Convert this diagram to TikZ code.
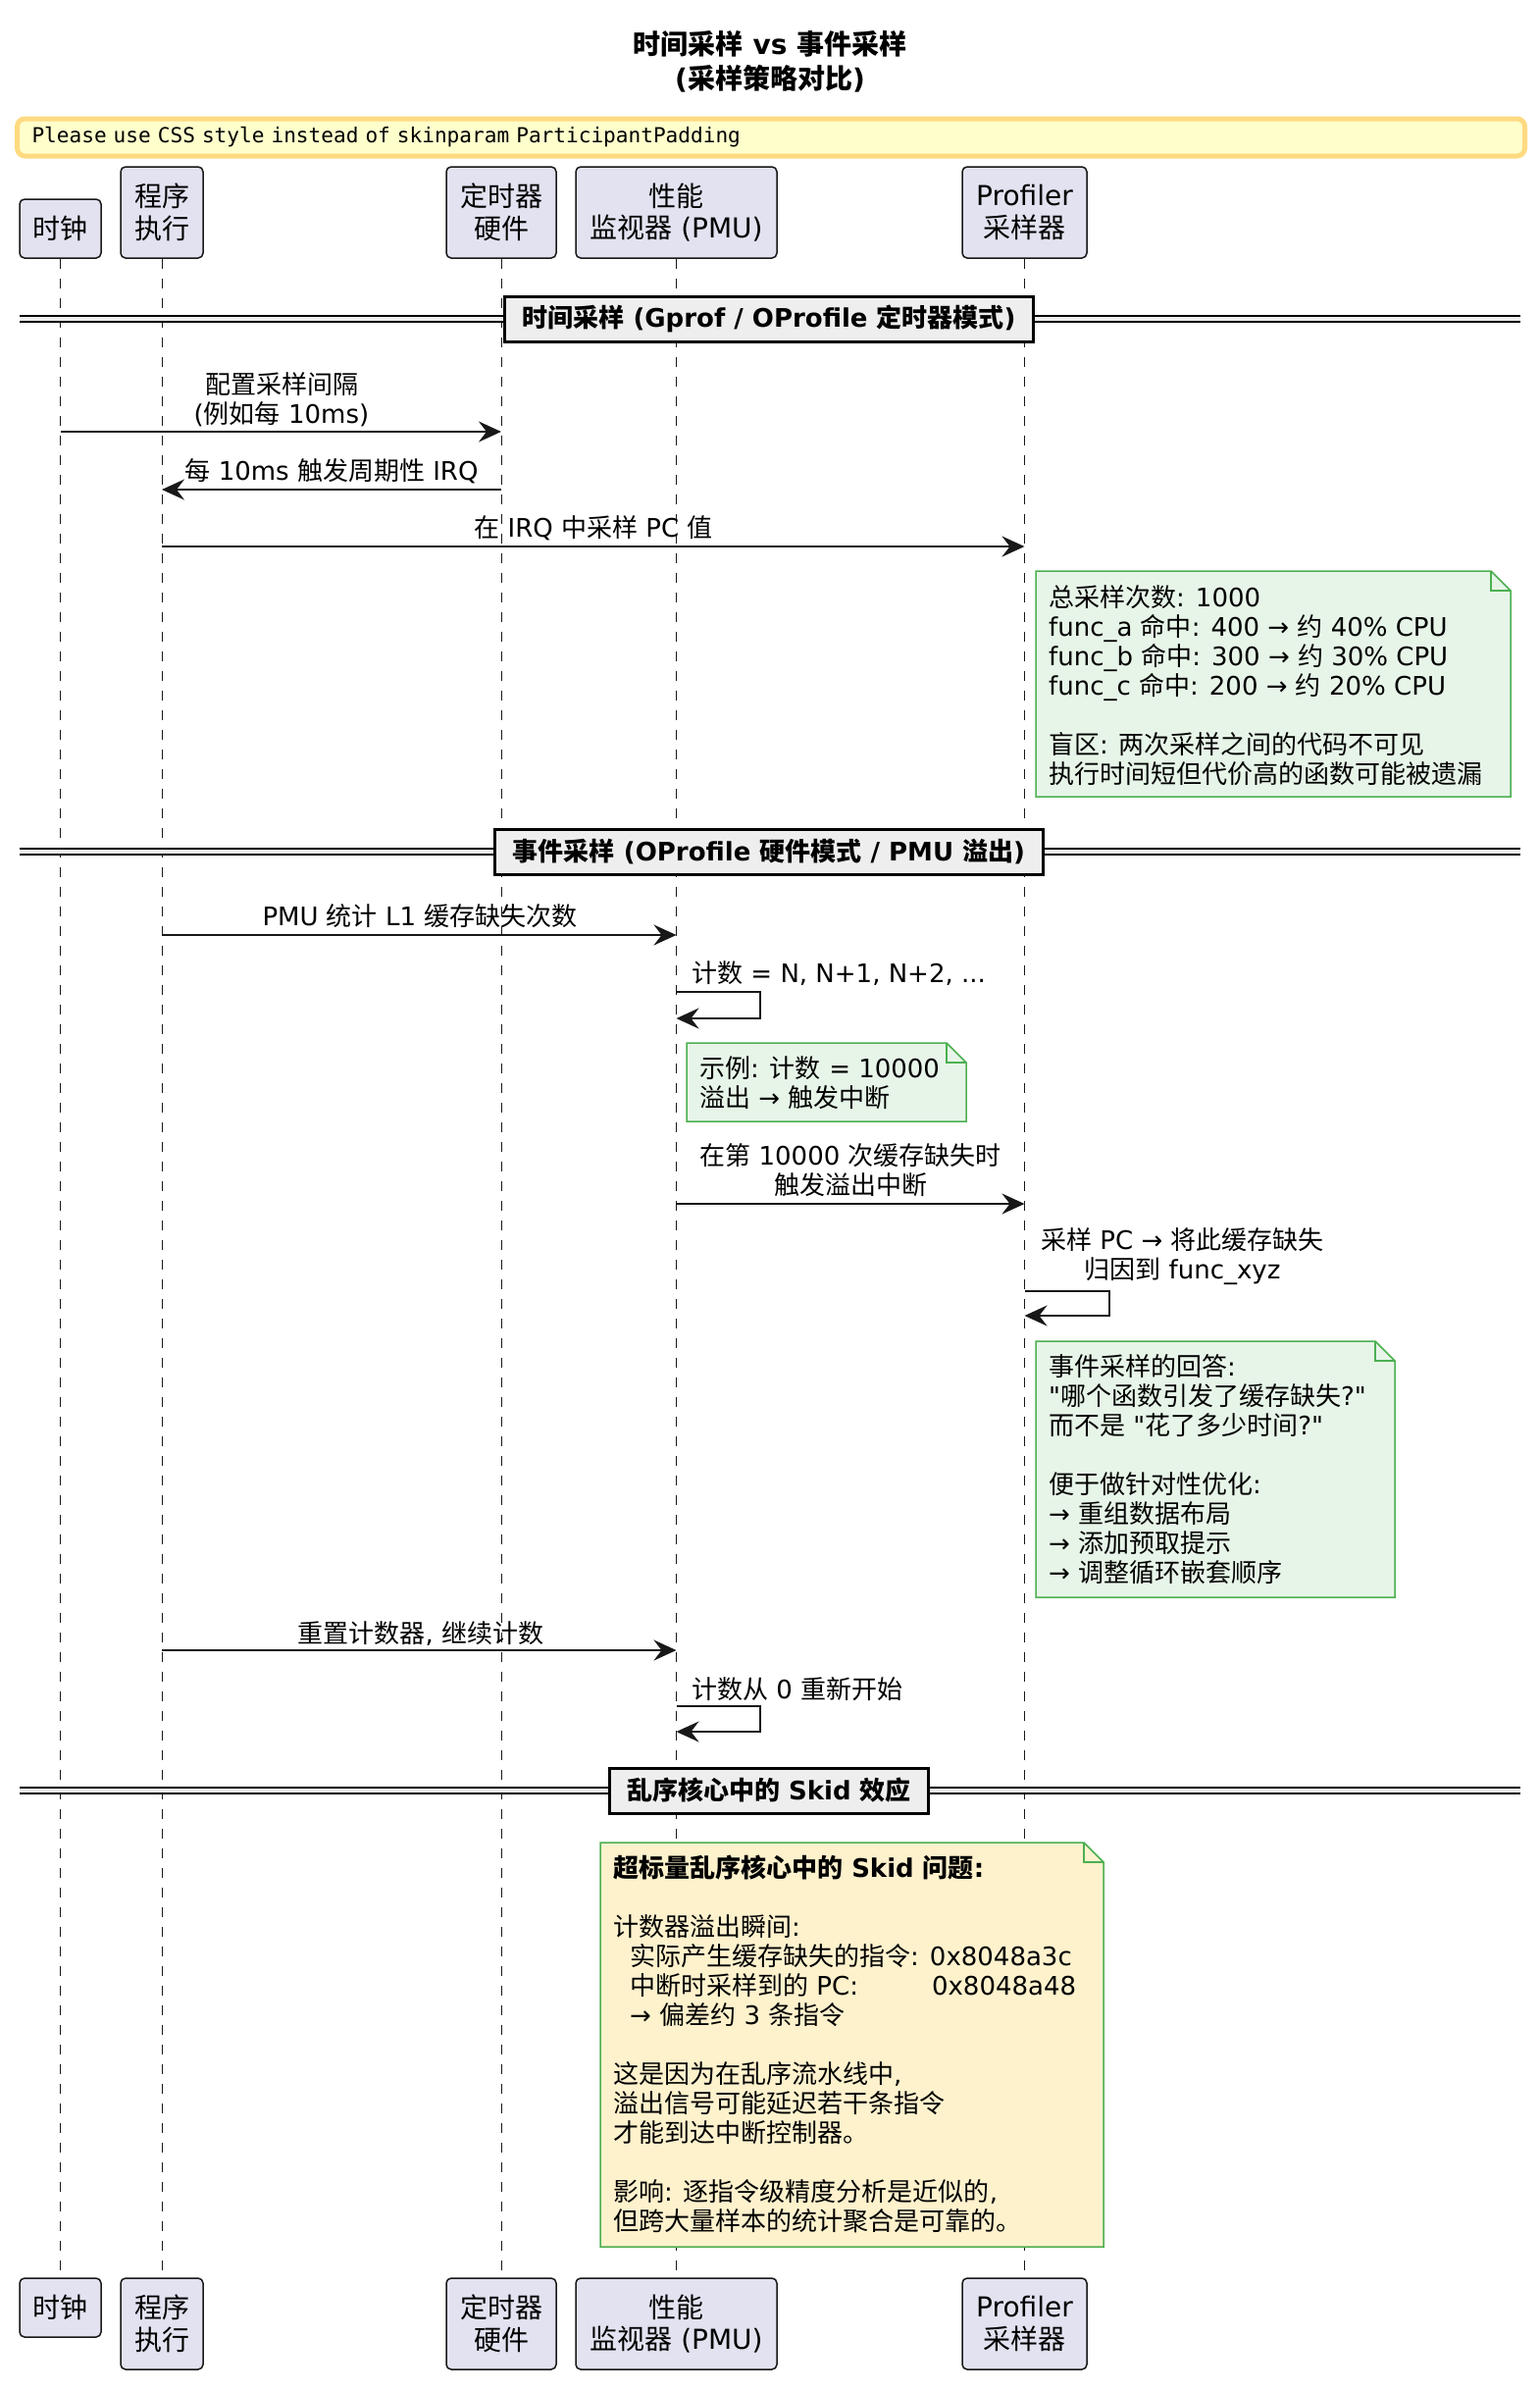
\documentclass[tikz,border=0pt]{standalone}
\usepackage{fontspec}
\usetikzlibrary{arrows.meta}
\setmainfont{DejaVu Sans}
\setmonofont{DejaVu Sans Mono}
\newfontfamily\cjkfam{Noto Sans CJK SC}
\newfontfamily\latfam{DejaVu Sans}
\newfontfamily\monofam{DejaVu Sans Mono}
\newcount\cjkcnt
\chardef\cjkcls=7
\def\setcjkrange#1#2{\cjkcnt=#1\relax
  \loop\XeTeXcharclass\cjkcnt=\cjkcls
  \ifnum\cjkcnt<#2\relax\advance\cjkcnt by 1 \repeat}
\setcjkrange{"4E00}{"9FFF}
\setcjkrange{"3000}{"303F}
\setcjkrange{"FF00}{"FFEF}
\XeTeXinterchartoks 0 \cjkcls = {\cjkfam}
\XeTeXinterchartoks 4095 \cjkcls = {\cjkfam}
\XeTeXinterchartoks \cjkcls 0 = {\latfam}
\XeTeXinterchartoks \cjkcls 4095 = {\latfam}
\XeTeXinterchartokenstate=1
\definecolor{pfill}{HTML}{E2E2F0}
\definecolor{pline}{HTML}{181818}
\definecolor{ngreen}{HTML}{E7F5E8}
\definecolor{nyellow}{HTML}{FEF2CD}
\definecolor{nborder}{HTML}{4CAF50}
\definecolor{divfill}{HTML}{EEEEEE}
\definecolor{wfill}{HTML}{FFFFCC}
\definecolor{wborder}{HTML}{FFDA80}
\newcommand\notebg[5]{%
  \draw[draw=nborder, line width=1.5pt, fill=#5] (#1,#2) -- (#3-20,#2) -- (#3,#2+20) -- (#3,#4) -- (#1,#4) -- cycle;
  \draw[draw=nborder, line width=1.5pt] (#3-20,#2) -- (#3-20,#2+20) -- (#3,#2+20);}
\newcommand\divline[3]{%
  \fill[divfill] (20,#1-3) rectangle (1550,#1+3);
  \draw[line width=1.5pt] (20,#1-3) -- (1550,#1-3) (20,#1+3) -- (1550,#1+3);
  \node[divbox] (#2) at (784,#1) {#3};}
\begin{document}
\begin{tikzpicture}[x=1pt,y=-1pt,
  part/.style={draw=pline, fill=pfill, line width=1.5pt, rounded corners=5pt, align=center, inner sep=0pt, font=\latfam\fontsize{28}{32.5}\selectfont},
  msg/.style={draw=pline, line width=2pt, -{Stealth[length=23pt,width=21pt,inset=8pt]}},
  lbl/.style={align=center, inner sep=0pt, font=\latfam\fontsize{26}{30}\selectfont},
  life/.style={draw=pline, line width=1pt, dash pattern=on 10pt off 10pt},
  notetxt/.style={align=left, inner sep=0pt, anchor=north west, font=\latfam\fontsize{26}{30}\selectfont},
  divbox/.style={draw=black, line width=3pt, fill=divfill, inner xsep=18pt, inner ysep=0pt, minimum height=46pt, font=\latfam\bfseries\fontsize{26}{30}\selectfont},
  titlestyle/.style={align=center, inner sep=0pt, font=\latfam\bfseries\fontsize{28}{35}\selectfont},
  warnbox/.style={draw=wborder, fill=wfill, line width=5pt, rounded corners=8pt, text width=1507pt, inner xsep=15pt, minimum height=38pt, align=left, font=\monofam\fontsize{21.1}{24}\selectfont}
]
\useasboundingbox (0,0) rectangle (1570,2436);

% title and warning
\node[titlestyle] (title) at (785,63) {时间采样 vs 事件采样\\(采样策略对比)};
\node[warnbox, anchor=west] (warn) at (15,140) {Please use CSS style instead of skinparam ParticipantPadding};

% participants (top)
\node[part, minimum width=83pt, minimum height=60pt] (clkT) at (61.5,233) {时钟};
\node[part, minimum width=84pt, minimum height=93pt] (runT) at (165,216.5) {程序\\执行};
\node[part, minimum width=112pt, minimum height=93pt] (tmrT) at (511,216.5) {定时器\\硬件};
\node[part, minimum width=205pt, minimum height=93pt] (pmuT) at (689.5,216.5) {性能\\监视器 (PMU)};
\node[part, minimum width=127pt, minimum height=93pt] (proT) at (1044.5,216.5) {Profiler\\采样器};
% participants (bottom)
\node[part, minimum width=83pt, minimum height=60pt] (clkB) at (61.5,2352) {时钟};
\node[part, minimum width=84pt, minimum height=93pt] (runB) at (165,2368.5) {程序\\执行};
\node[part, minimum width=112pt, minimum height=93pt] (tmrB) at (511,2368.5) {定时器\\硬件};
\node[part, minimum width=205pt, minimum height=93pt] (pmuB) at (689.5,2368.5) {性能\\监视器 (PMU)};
\node[part, minimum width=127pt, minimum height=93pt] (proB) at (1044.5,2368.5) {Profiler\\采样器};

% lifelines
\draw[life] (clkT) -- (clkB);
\draw[life] (runT) -- (runB);
\draw[life] (tmrT) -- (tmrB);
\draw[life] (pmuT) -- (pmuB);
\draw[life] (proT) -- (proB);

% dividers
\divline{325}{div1}{时间采样 (Gprof / OProfile 定时器模式)}
\divline{868}{div2}{事件采样 (OProfile 硬件模式 / PMU 溢出)}
\divline{1825}{div3}{乱序核心中的 Skid 效应}

% message rows
\coordinate (y1) at (0,440);
\coordinate (y2) at (0,499);
\coordinate (y3) at (0,557);
\coordinate (y4) at (0,953);
\coordinate (s1a) at (0,1011);
\coordinate (s1b) at (0,1038);
\coordinate (y5) at (0,1227);
\coordinate (s2a) at (0,1316);
\coordinate (s2b) at (0,1341);
\coordinate (y6) at (0,1682);
\coordinate (s3a) at (0,1739);
\coordinate (s3b) at (0,1765);

% section 1
\draw[msg] (clkT |- y1) -- (tmrT |- y1);
\node[lbl] (l1) at (287,407) {配置采样间隔\\(例如每 10ms)};
\draw[msg] (tmrT |- y2) -- (runT |- y2);
\node[lbl] (l2) at (338,480) {每 10ms 触发周期性 IRQ};
\draw[msg] (runT |- y3) -- (proT |- y3);
\node[lbl] (l3) at (605,538) {在 IRQ 中采样 PC 值};

\notebg{1056}{582}{1540}{812}{ngreen}
\node[notetxt] (n1) at (1069,596) {总采样次数: 1000\\func\_a 命中: 400 → 约 40\% CPU\\func\_b 命中: 300 → 约 30\% CPU\\func\_c 命中: 200 → 约 20\% CPU\\\mbox{}\\盲区: 两次采样之间的代码不可见\\执行时间短但代价高的函数可能被遗漏};

% section 2
\draw[msg] (runT |- y4) -- (pmuT |- y4);
\node[lbl] (l4) at (428,934) {PMU 统计 L1 缓存缺失次数};
\draw[msg] (pmuT |- s1a) -- ++(85,0) -- ++(0,27) -- (pmuT |- s1b);
\node[lbl, anchor=west] (l5) at (705,992) {计数 = N, N+1, N+2, ...};

\notebg{700}{1063}{985}{1143}{ngreen}
\node[notetxt] (n2) at (713,1076) {示例: 计数 = 10000\\溢出 → 触发中断};

\draw[msg] (pmuT |- y5) -- (proT |- y5);
\node[lbl] (l6) at (867,1193) {在第 10000 次缓存缺失时\\触发溢出中断};
\draw[msg] (proT |- s2a) -- ++(86,0) -- ++(0,25) -- (proT |- s2b);
\node[lbl, anchor=west] (l7) at (1061,1281) {采样 PC → 将此缓存缺失\\归因到 func\_xyz};

\notebg{1056}{1367}{1422}{1628}{ngreen}
\node[notetxt] (n3) at (1069,1380) {事件采样的回答:\\"哪个函数引发了缓存缺失?"\\而不是 "花了多少时间?"\\\mbox{}\\便于做针对性优化:\\→ 重组数据布局\\→ 添加预取提示\\→ 调整循环嵌套顺序};

\draw[msg] (runT |- y6) -- (pmuT |- y6);
\node[lbl] (l8) at (429,1665) {重置计数器, 继续计数};
\draw[msg] (pmuT |- s3a) -- ++(85,0) -- ++(0,26) -- (pmuT |- s3b);
\node[lbl, anchor=west] (l9) at (705,1722) {计数从 0 重新开始};

% section 3
\notebg{612}{1878}{1125}{2290}{nyellow}
\node[notetxt] (n4) at (625,1891) {\textbf{超标量乱序核心中的 Skid 问题:}\\\mbox{}\\计数器溢出瞬间:\\\hspace*{17pt}实际产生缓存缺失的指令: 0x8048a3c\\\hspace*{17pt}中断时采样到的 PC:\hspace{75pt}0x8048a48\\\hspace*{17pt}→ 偏差约 3 条指令\\\mbox{}\\这是因为在乱序流水线中,\\溢出信号可能延迟若干条指令\\才能到达中断控制器。\\\mbox{}\\影响: 逐指令级精度分析是近似的,\\但跨大量样本的统计聚合是可靠的。};
\end{tikzpicture}
\end{document}
